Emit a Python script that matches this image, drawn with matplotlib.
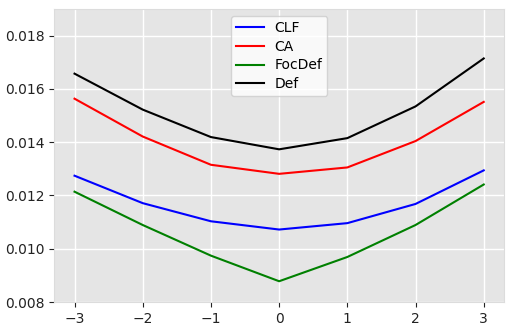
import matplotlib.pyplot as plt

x = [-3, -2, -1, 0, 1, 2, 3]
clf = [0.01274, 0.01171, 0.01103, 0.01072, 0.01096, 0.01168, 0.01294]
ca = [0.01563, 0.01421, 0.01315, 0.01281, 0.01305, 0.01404, 0.01551]
focdef = [0.01214, 0.01089, 0.00974, 0.00878, 0.00969, 0.01089, 0.01241]
deff = [0.01657, 0.01522, 0.01419, 0.01373, 0.01415, 0.01534, 0.01714]
yticks = [0.008, 0.010, 0.012, 0.014, 0.016, 0.018]

fig = plt.figure(figsize=(5.15, 3.29), dpi=100)
ax = fig.add_axes([0.105, 0.082, 0.874, 0.891])
ax.set_facecolor("#e5e5e5")
for s in ax.spines.values():
    s.set_color("#dcdcdc")
ax.grid(True, color="white", linewidth=1.0)
ax.set_axisbelow(True)

ax.plot(x, clf, color="blue", label="CLF", linewidth=1.5)
ax.plot(x, ca, color="red", label="CA", linewidth=1.5)
ax.plot(x, focdef, color="green", label="FocDef", linewidth=1.5)
ax.plot(x, deff, color="black", label="Def", linewidth=1.5)

ax.set_xlim(-3.3, 3.3)
ax.set_ylim(0.008, 0.019)
ax.set_xticks(x)
ax.set_yticks(yticks)
ax.set_yticklabels([f"{v:.3f}" for v in yticks])
ax.tick_params(labelsize=10, colors="#222222")

leg = ax.legend(loc="upper center", fontsize=10, facecolor="white", framealpha=0.8,
                edgecolor="#cccccc", labelspacing=0.35, borderpad=0.35)

fig.savefig("out.png", dpi=100)
